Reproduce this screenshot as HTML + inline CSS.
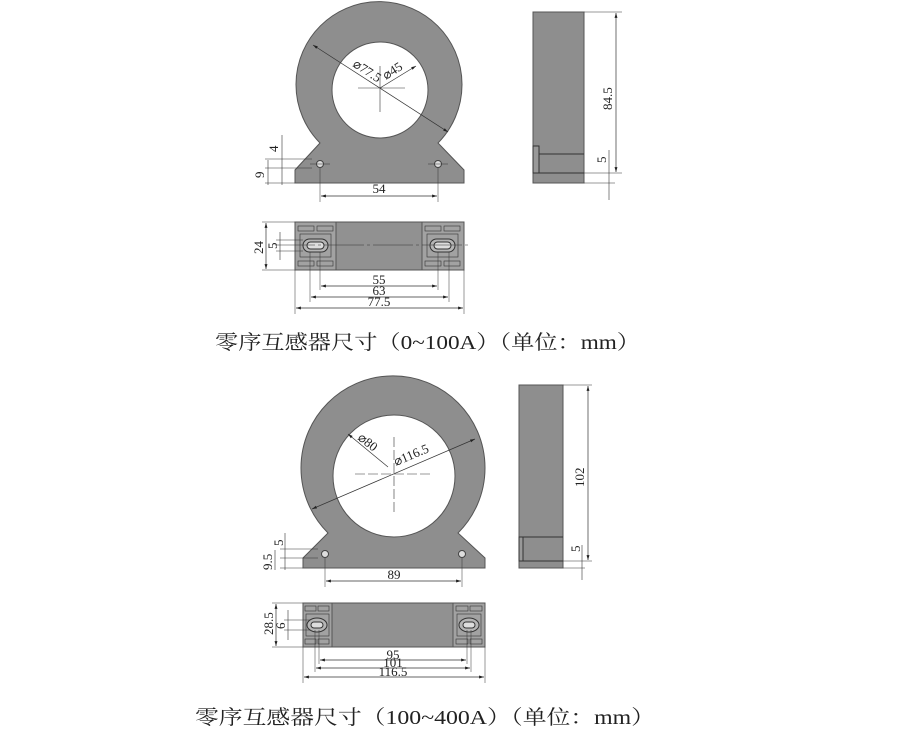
<!DOCTYPE html>
<html><head><meta charset="utf-8"><style>
html,body{margin:0;padding:0;background:#fff;}
svg{display:block}
text{font-family:"Liberation Serif","Noto Serif CJK SC",serif;fill:#222}
</style></head><body>
<svg width="900" height="736" viewBox="0 0 900 736" xmlns="http://www.w3.org/2000/svg">
<defs>
<marker id="a" viewBox="0 0 10 10" refX="10" refY="5" markerWidth="7" markerHeight="7" orient="auto-start-reverse"><path d="M0,2 L10,5 L0,8z" fill="#222"/></marker>
</defs>
<g stroke="#333" stroke-width="1" fill="none">
<path d="M320,143 A83,83 0 1 1 438,143 L464,170 L464,183 L295,183 L295,170 Z" fill="#8e8e8e" stroke="#555"/>
<circle cx="380" cy="90" r="48" fill="#fff" stroke="#555"/>
<line x1="358" y1="88" x2="405" y2="88" stroke-width="0.6"/>
<line x1="380" y1="66" x2="380" y2="112" stroke-width="0.6"/>
<line x1="313" y1="45" x2="448" y2="132" stroke-width="0.7" marker-start="url(#a)" marker-end="url(#a)"/>
<line x1="380" y1="88" x2="416" y2="66" stroke-width="0.7" marker-end="url(#a)"/>
<circle cx="320" cy="164" r="3.5" fill="#ddd" stroke="#444"/>
<circle cx="438" cy="164" r="3.5" fill="#ddd" stroke="#444"/>
<line x1="310" y1="164" x2="330" y2="164" stroke-width="0.5"/>
<line x1="428" y1="164" x2="448" y2="164" stroke-width="0.5"/>
<line x1="320" y1="168" x2="320" y2="202" stroke-width="0.5"/>
<line x1="438" y1="168" x2="438" y2="202" stroke-width="0.5"/>
<line x1="321" y1="196" x2="437" y2="196" stroke-width="0.7" marker-start="url(#a)" marker-end="url(#a)"/>
<line x1="265" y1="159" x2="312" y2="159" stroke-width="0.5"/>
<line x1="265" y1="168" x2="312" y2="168" stroke-width="0.5"/>
<line x1="265" y1="183" x2="295" y2="183" stroke-width="0.5"/>
<line x1="282" y1="135" x2="282" y2="185" stroke-width="0.6"/>
<line x1="268" y1="160" x2="268" y2="185" stroke-width="0.6"/>
<rect x="533" y="12" width="51" height="171" fill="#8e8e8e" stroke="#555"/>
<line x1="537" y1="154" x2="584" y2="154"/>
<line x1="533" y1="173" x2="584" y2="173"/>
<rect x="533" y="146" width="6" height="27" fill="#999"/>
<line x1="584" y1="12" x2="622" y2="12" stroke-width="0.5"/>
<line x1="584" y1="173" x2="622" y2="173" stroke-width="0.5"/>
<line x1="584" y1="183" x2="615" y2="183" stroke-width="0.5"/>
<line x1="616" y1="13" x2="616" y2="172" stroke-width="0.7" marker-start="url(#a)" marker-end="url(#a)"/>
<line x1="609" y1="150" x2="609" y2="200" stroke-width="0.6"/>
<rect x="295" y="222" width="169" height="48" fill="#919191" stroke="#555"/>
<rect x="295" y="222" width="41" height="48" fill="#a2a2a2" stroke="#555"/>
<rect x="422" y="222" width="42" height="48" fill="#a2a2a2" stroke="#555"/>
<g stroke-width="0.6">
<rect x="298" y="226" width="16" height="5"/><rect x="317" y="226" width="16" height="5"/>
<rect x="298" y="261" width="16" height="5"/><rect x="317" y="261" width="16" height="5"/>
<rect x="425" y="226" width="16" height="5"/><rect x="444" y="226" width="16" height="5"/>
<rect x="425" y="261" width="16" height="5"/><rect x="444" y="261" width="16" height="5"/>
<rect x="300" y="234" width="31" height="23"/><rect x="427" y="234" width="31" height="23"/>
</g>
<rect x="303" y="239" width="25" height="13" rx="6.5" fill="#b5b5b5"/>
<rect x="430" y="239" width="25" height="13" rx="6.5" fill="#b5b5b5"/>
<rect x="307" y="242" width="17" height="7" rx="3.5" fill="#ddd"/>
<rect x="434" y="242" width="17" height="7" rx="3.5" fill="#ddd"/>
<line x1="275" y1="245" x2="470" y2="245" stroke-width="0.5" stroke-dasharray="40,3,3,3"/>
<line x1="295" y1="270" x2="295" y2="314" stroke-width="0.5"/>
<line x1="464" y1="270" x2="464" y2="314" stroke-width="0.5"/>
<line x1="310" y1="252" x2="310" y2="302" stroke-width="0.5"/>
<line x1="449" y1="252" x2="449" y2="302" stroke-width="0.5"/>
<line x1="320" y1="252" x2="320" y2="290" stroke-width="0.5"/>
<line x1="438" y1="252" x2="438" y2="290" stroke-width="0.5"/>
<line x1="321" y1="286" x2="437" y2="286" stroke-width="0.7" marker-start="url(#a)" marker-end="url(#a)"/>
<line x1="311" y1="297" x2="448" y2="297" stroke-width="0.7" marker-start="url(#a)" marker-end="url(#a)"/>
<line x1="296" y1="308" x2="463" y2="308" stroke-width="0.7" marker-start="url(#a)" marker-end="url(#a)"/>
<line x1="262" y1="222" x2="295" y2="222" stroke-width="0.5"/>
<line x1="262" y1="270" x2="295" y2="270" stroke-width="0.5"/>
<line x1="276" y1="240" x2="303" y2="240" stroke-width="0.5"/>
<line x1="276" y1="251" x2="303" y2="251" stroke-width="0.5"/>
<line x1="266" y1="223" x2="266" y2="269" stroke-width="0.7" marker-start="url(#a)" marker-end="url(#a)"/>
<line x1="280" y1="232" x2="280" y2="260" stroke-width="0.6"/>

<path d="M328,533 A92,92 0 1 1 458,533 L485,558 L485,568 L303,568 L303,558 Z" fill="#8e8e8e" stroke="#555"/>
<circle cx="394" cy="476" r="61" fill="#fff" stroke="#555"/>
<line x1="355" y1="474" x2="432" y2="474" stroke-width="0.6" stroke-dasharray="10,3"/>
<line x1="394" y1="437" x2="394" y2="512" stroke-width="0.6" stroke-dasharray="10,3"/>
<line x1="312" y1="509" x2="475" y2="439" stroke-width="0.7" marker-start="url(#a)" marker-end="url(#a)"/>
<line x1="388" y1="467" x2="348" y2="434" stroke-width="0.7" marker-end="url(#a)"/>
<circle cx="325" cy="554" r="3.5" fill="#ddd" stroke="#444"/>
<circle cx="462" cy="554" r="3.5" fill="#ddd" stroke="#444"/>
<line x1="325" y1="558" x2="325" y2="587" stroke-width="0.5"/>
<line x1="462" y1="558" x2="462" y2="587" stroke-width="0.5"/>
<line x1="326" y1="581" x2="461" y2="581" stroke-width="0.7" marker-start="url(#a)" marker-end="url(#a)"/>
<line x1="280" y1="549" x2="318" y2="549" stroke-width="0.5"/>
<line x1="280" y1="558" x2="318" y2="558" stroke-width="0.5"/>
<line x1="280" y1="568" x2="303" y2="568" stroke-width="0.5"/>
<line x1="285" y1="533" x2="285" y2="570" stroke-width="0.6"/>
<line x1="275" y1="550" x2="275" y2="570" stroke-width="0.6"/>
<rect x="519" y="385" width="44" height="183" fill="#8e8e8e" stroke="#555"/>
<line x1="523" y1="537" x2="563" y2="537"/>
<line x1="519" y1="561" x2="563" y2="561"/>
<rect x="519" y="537" width="4" height="24" fill="#999"/>
<line x1="563" y1="385" x2="592" y2="385" stroke-width="0.5"/>
<line x1="563" y1="561" x2="592" y2="561" stroke-width="0.5"/>
<line x1="563" y1="568" x2="585" y2="568" stroke-width="0.5"/>
<line x1="588" y1="386" x2="588" y2="560" stroke-width="0.7" marker-start="url(#a)" marker-end="url(#a)"/>
<line x1="582" y1="545" x2="582" y2="580" stroke-width="0.6"/>
<rect x="303" y="603" width="182" height="44" fill="#919191" stroke="#555"/>
<rect x="303" y="603" width="29" height="44" fill="#a2a2a2" stroke="#555"/>
<rect x="453" y="603" width="32" height="44" fill="#a2a2a2" stroke="#555"/>
<g stroke-width="0.6">
<rect x="305" y="606" width="11" height="5"/><rect x="318" y="606" width="11" height="5"/>
<rect x="305" y="639" width="11" height="5"/><rect x="318" y="639" width="11" height="5"/>
<rect x="456" y="606" width="12" height="5"/><rect x="470" y="606" width="12" height="5"/>
<rect x="456" y="639" width="12" height="5"/><rect x="470" y="639" width="12" height="5"/>
<rect x="306" y="614" width="23" height="22"/><rect x="457" y="614" width="24" height="22"/>
</g>
<ellipse cx="317" cy="625" rx="10" ry="7" fill="#b5b5b5"/>
<ellipse cx="469" cy="625" rx="10" ry="7" fill="#b5b5b5"/>
<rect x="311" y="622" width="12" height="6" rx="3" fill="#ddd"/>
<rect x="463" y="622" width="12" height="6" rx="3" fill="#ddd"/>
<line x1="303" y1="647" x2="303" y2="683" stroke-width="0.5"/>
<line x1="485" y1="647" x2="485" y2="683" stroke-width="0.5"/>
<line x1="315" y1="630" x2="315" y2="672" stroke-width="0.5"/>
<line x1="471" y1="630" x2="471" y2="672" stroke-width="0.5"/>
<line x1="319" y1="630" x2="319" y2="664" stroke-width="0.5"/>
<line x1="467" y1="630" x2="467" y2="664" stroke-width="0.5"/>
<line x1="320" y1="660" x2="466" y2="660" stroke-width="0.7" marker-start="url(#a)" marker-end="url(#a)"/>
<line x1="316" y1="668" x2="470" y2="668" stroke-width="0.7" marker-start="url(#a)" marker-end="url(#a)"/>
<line x1="304" y1="677" x2="484" y2="677" stroke-width="0.7" marker-start="url(#a)" marker-end="url(#a)"/>
<line x1="272" y1="603" x2="303" y2="603" stroke-width="0.5"/>
<line x1="272" y1="647" x2="303" y2="647" stroke-width="0.5"/>
<line x1="284" y1="620" x2="310" y2="620" stroke-width="0.5"/>
<line x1="284" y1="630" x2="310" y2="630" stroke-width="0.5"/>
<line x1="276" y1="604" x2="276" y2="646" stroke-width="0.7" marker-start="url(#a)" marker-end="url(#a)"/>
<line x1="288" y1="610" x2="288" y2="640" stroke-width="0.6"/>
</g>
<g font-size="13">
<text x="352" y="66" font-size="13" transform="rotate(33 352 66)">⌀77.5</text>
<text x="386" y="80" font-size="13" transform="rotate(-33 386 80)">⌀45</text>
<text x="379" y="193" text-anchor="middle">54</text>
<text x="278" y="152" transform="rotate(-90 278 152)">4</text>
<text x="264" y="178" transform="rotate(-90 264 178)">9</text>
<text x="612" y="110" transform="rotate(-90 612 110)">84.5</text>
<text x="606" y="163" transform="rotate(-90 606 163)">5</text>
<text x="379" y="284" text-anchor="middle">55</text>
<text x="379" y="295" text-anchor="middle">63</text>
<text x="379" y="306" text-anchor="middle">77.5</text>
<text x="263" y="254" transform="rotate(-90 263 254)">24</text>
<text x="277" y="249" transform="rotate(-90 277 249)">5</text>
<text x="357" y="439" font-size="13" transform="rotate(38 357 439)">⌀80</text>
<text x="396" y="466" font-size="13" transform="rotate(-23 396 466)">⌀116.5</text>
<text x="394" y="579" text-anchor="middle">89</text>
<text x="283" y="546" transform="rotate(-90 283 546)">5</text>
<text x="272" y="570" transform="rotate(-90 272 570)">9.5</text>
<text x="584" y="487" transform="rotate(-90 584 487)">102</text>
<text x="580" y="552" transform="rotate(-90 580 552)">5</text>
<text x="393" y="659" text-anchor="middle">95</text>
<text x="393" y="667" text-anchor="middle">101</text>
<text x="393" y="676" text-anchor="middle">116.5</text>
<text x="273" y="635" transform="rotate(-90 273 635)">28.5</text>
<text x="285" y="629" transform="rotate(-90 285 629)">6</text>
</g>
<text x="215" y="349" font-size="20" textLength="425" lengthAdjust="spacingAndGlyphs">零序互感器尺寸（0~100A）（单位：mm）</text>
<text x="195" y="724" font-size="20" textLength="460" lengthAdjust="spacingAndGlyphs">零序互感器尺寸（100~400A）（单位：mm）</text>
</svg>
</body></html>
